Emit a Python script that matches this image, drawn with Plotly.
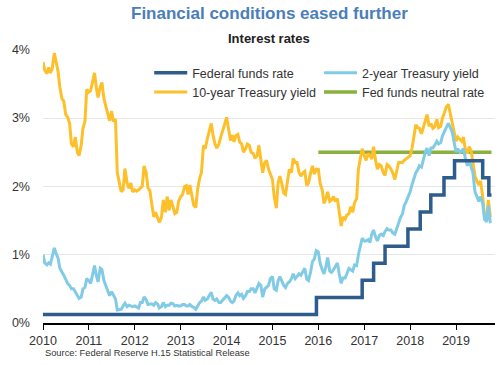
import pandas as pd
import plotly.graph_objects as go

# Semi-monthly readings (1st and 15th of each month), Jan 2010 - Oct 2019
ten_year = [
    # 2010
    3.82, 3.70, 3.65, 3.74, 3.66, 3.72, 3.95, 3.82, 3.68, 3.45, 3.28, 3.25,
    3.05, 3.02, 2.92, 2.62, 2.58, 2.72, 2.50, 2.45, 2.60, 2.85, 2.95, 3.42,
    # 2011
    3.38, 3.40, 3.55, 3.66, 3.45, 3.30, 3.45, 3.52, 3.28, 3.18, 3.05, 2.96,
    3.10, 2.95, 2.98, 2.20, 2.05, 1.92, 1.95, 2.26, 2.05, 1.97, 2.05, 1.92,
    # 2012
    1.95, 1.93, 1.95, 1.97, 2.00, 2.30, 2.20, 1.98, 1.93, 1.75, 1.55, 1.62,
    1.55, 1.47, 1.55, 1.80, 1.62, 1.85, 1.65, 1.80, 1.70, 1.60, 1.62, 1.78,
    # 2013
    1.85, 1.88, 2.00, 2.01, 1.88, 2.02, 1.85, 1.72, 1.69, 1.95, 2.12, 2.20,
    2.60, 2.55, 2.70, 2.80, 2.92, 2.75, 2.62, 2.56, 2.62, 2.72, 2.80, 2.90,
    # 2014
    3.01, 2.85, 2.67, 2.75, 2.65, 2.74, 2.76, 2.65, 2.62, 2.50, 2.55, 2.62,
    2.60, 2.50, 2.48, 2.41, 2.45, 2.60, 2.42, 2.20, 2.35, 2.38, 2.25, 2.18,
    # 2015
    2.10, 1.85, 1.68, 2.05, 2.15, 2.05, 1.90, 1.88, 2.12, 2.25, 2.20, 2.41,
    2.35, 2.35, 2.20, 2.15, 2.20, 2.22, 2.01, 2.05, 2.20, 2.30, 2.18, 2.25,
    # 2016
    2.25, 2.05, 1.95, 1.75, 1.82, 1.92, 1.78, 1.80, 1.85, 1.78, 1.82, 1.62,
    1.42, 1.55, 1.52, 1.58, 1.60, 1.70, 1.62, 1.76, 1.82, 2.25, 2.40, 2.55,
    # 2017
    2.45, 2.38, 2.48, 2.45, 2.40, 2.58, 2.38, 2.25, 2.32, 2.30, 2.20, 2.16,
    2.32, 2.30, 2.25, 2.20, 2.10, 2.20, 2.35, 2.35, 2.35, 2.38, 2.40, 2.42,
    # 2018
    2.45, 2.55, 2.78, 2.90, 2.86, 2.85, 2.77, 2.85, 2.96, 3.05, 2.88, 2.92,
    2.85, 2.87, 2.98, 2.86, 2.88, 3.00, 3.08, 3.16, 3.20, 3.08, 2.95, 2.82,
    # 2019
    2.66, 2.72, 2.68, 2.66, 2.72, 2.55, 2.48, 2.58, 2.52, 2.38, 2.15, 2.08,
    2.02, 2.08, 1.85, 1.58, 1.50, 1.80, 1.55,
]

two_year = [
    # 2010
    1.00, 0.88, 0.85, 0.88, 0.86, 0.96, 1.10, 1.02, 0.95, 0.80, 0.75, 0.70,
    0.64, 0.58, 0.55, 0.50, 0.50, 0.46, 0.42, 0.36, 0.38, 0.50, 0.52, 0.65,
    # 2011
    0.62, 0.58, 0.72, 0.84, 0.70, 0.60, 0.80, 0.78, 0.62, 0.55, 0.46, 0.40,
    0.46, 0.40, 0.35, 0.19, 0.20, 0.20, 0.25, 0.29, 0.24, 0.26, 0.25, 0.24,
    # 2012
    0.25, 0.24, 0.22, 0.30, 0.30, 0.38, 0.34, 0.27, 0.27, 0.28, 0.26, 0.30,
    0.28, 0.22, 0.24, 0.30, 0.24, 0.26, 0.26, 0.29, 0.28, 0.25, 0.26, 0.25,
    # 2013
    0.25, 0.27, 0.27, 0.25, 0.25, 0.27, 0.24, 0.23, 0.20, 0.25, 0.30, 0.32,
    0.38, 0.33, 0.35, 0.40, 0.45, 0.35, 0.33, 0.35, 0.30, 0.30, 0.33, 0.36,
    # 2014
    0.40, 0.38, 0.32, 0.30, 0.32, 0.40, 0.44, 0.40, 0.42, 0.36, 0.40, 0.46,
    0.46, 0.50, 0.50, 0.44, 0.52, 0.58, 0.55, 0.38, 0.50, 0.52, 0.55, 0.65,
    # 2015
    0.68, 0.50, 0.48, 0.62, 0.68, 0.62, 0.55, 0.52, 0.58, 0.60, 0.65, 0.72,
    0.65, 0.68, 0.72, 0.70, 0.75, 0.80, 0.64, 0.62, 0.75, 0.90, 0.94, 1.06,
    # 2016
    1.04, 0.88, 0.78, 0.72, 0.82, 0.96, 0.76, 0.74, 0.78, 0.82, 0.88, 0.72,
    0.58, 0.66, 0.66, 0.72, 0.80, 0.78, 0.76, 0.85, 0.84, 1.00, 1.12, 1.24,
    # 2017
    1.20, 1.20, 1.22, 1.18, 1.30, 1.36, 1.26, 1.20, 1.28, 1.30, 1.28, 1.34,
    1.38, 1.36, 1.36, 1.32, 1.30, 1.38, 1.48, 1.54, 1.60, 1.72, 1.78, 1.84,
    # 2018
    1.92, 2.02, 2.14, 2.20, 2.24, 2.30, 2.28, 2.40, 2.50, 2.56, 2.45, 2.56,
    2.56, 2.60, 2.66, 2.62, 2.64, 2.74, 2.82, 2.86, 2.92, 2.86, 2.80, 2.66,
    # 2019
    2.50, 2.55, 2.50, 2.52, 2.55, 2.42, 2.30, 2.38, 2.30, 2.20, 1.92, 1.85,
    1.78, 1.85, 1.75, 1.52, 1.48, 1.72, 1.46,
]

ff_dates = ["2010-01-01", "2015-12-17", "2016-12-15", "2017-03-16", "2017-06-15",
            "2017-12-14", "2018-03-22", "2018-06-14", "2018-09-27", "2018-12-20",
            "2019-08-01", "2019-09-19", "2019-10-10"]
ff_values = [0.125, 0.375, 0.625, 0.875, 1.125, 1.375, 1.625, 1.875, 2.125, 2.375,
             2.125, 1.875, 1.875]

neutral_dates = ["2016-01-01", "2019-10-10"]
neutral_values = [2.5, 2.5]

years = list(range(2010, 2020))
y_ticks = [0, 1, 2, 3, 4]
y_labels = ["0%", "1%", "2%", "3%", "4%"]

dates_10 = pd.date_range("2010-01-01", periods=len(ten_year), freq="SMS")
dates_2 = pd.date_range("2010-01-01", periods=len(two_year), freq="SMS")

FONT = "Liberation Sans, Arial, sans-serif"

fig = go.Figure()
fig.add_trace(go.Scatter(x=neutral_dates, y=neutral_values, mode="lines",
                         name="Fed funds neutral rate", legend="legend2", legendrank=2,
                         line=dict(color="#8AB13F", width=3.5)))
fig.add_trace(go.Scatter(x=dates_10, y=ten_year, mode="lines",
                         name="10-year Treasury yield", legend="legend", legendrank=2,
                         line=dict(color="#FDC02A", width=3)))
fig.add_trace(go.Scatter(x=dates_2, y=two_year, mode="lines",
                         name="2-year Treasury yield", legend="legend2", legendrank=1,
                         line=dict(color="#82CBE6", width=3)))
fig.add_trace(go.Scatter(x=ff_dates, y=ff_values, mode="lines",
                         name="Federal funds rate", legend="legend", legendrank=1,
                         line=dict(color="#2E5C8C", width=3.5, shape="hv")))

legend_common = dict(orientation="v", yanchor="top", xanchor="left", traceorder="normal",
                     font=dict(size=12.5, color="#333333"), bgcolor="rgba(0,0,0,0)",
                     itemwidth=33, tracegroupgap=0)

fig.update_layout(
    width=500, height=365,
    margin=dict(l=43, r=5, t=49, b=42),
    plot_bgcolor="white", paper_bgcolor="white",
    font=dict(family=FONT, size=12, color="#333333"),
    showlegend=True,
    legend=dict(x=0.235, y=0.967, **legend_common),
    legend2=dict(x=0.6106, y=0.967, **legend_common),
    annotations=[
        dict(text="<b>Financial conditions eased further</b>", xref="paper", yref="paper",
             x=0.5, y=1.131, xanchor="center", yanchor="middle", showarrow=False,
             font=dict(size=17, color="#4A7EBB", family=FONT)),
        dict(text="<b>Interest rates</b>", xref="paper", yref="paper",
             x=0.5, y=1.040, xanchor="center", yanchor="middle", showarrow=False,
             font=dict(size=13, color="#222222", family=FONT)),
        dict(text="Source: Federal Reserve H.15 Statistical Release", xref="paper", yref="paper",
             x=0, y=-0.1095, xanchor="left", yanchor="middle", showarrow=False,
             font=dict(size=9.3, color="#333333", family=FONT)),
    ],
)

fig.update_xaxes(type="date", range=["2010-01-01", "2019-11-07"],
                 tickvals=[f"{y}-01-01" for y in years], ticktext=[str(y) for y in years],
                 showgrid=False, showline=True, linecolor="black", linewidth=1.5,
                 ticks="outside", ticklen=5, tickcolor="black", tickwidth=1,
                 tickfont=dict(size=12.5, color="#333333"), zeroline=False)
fig.update_yaxes(range=[0, 4.01], tickvals=y_ticks, ticktext=y_labels,
                 showgrid=True, gridcolor="#E6E6E6", gridwidth=1, zeroline=False,
                 showline=False, ticks="", ticklabelstandoff=12,
                 tickfont=dict(size=12.5, color="#333333"))

fig.write_html("out.html", config={"displayModeBar": False},
               post_script="document.body.style.margin='0';document.body.style.overflow='hidden';")
